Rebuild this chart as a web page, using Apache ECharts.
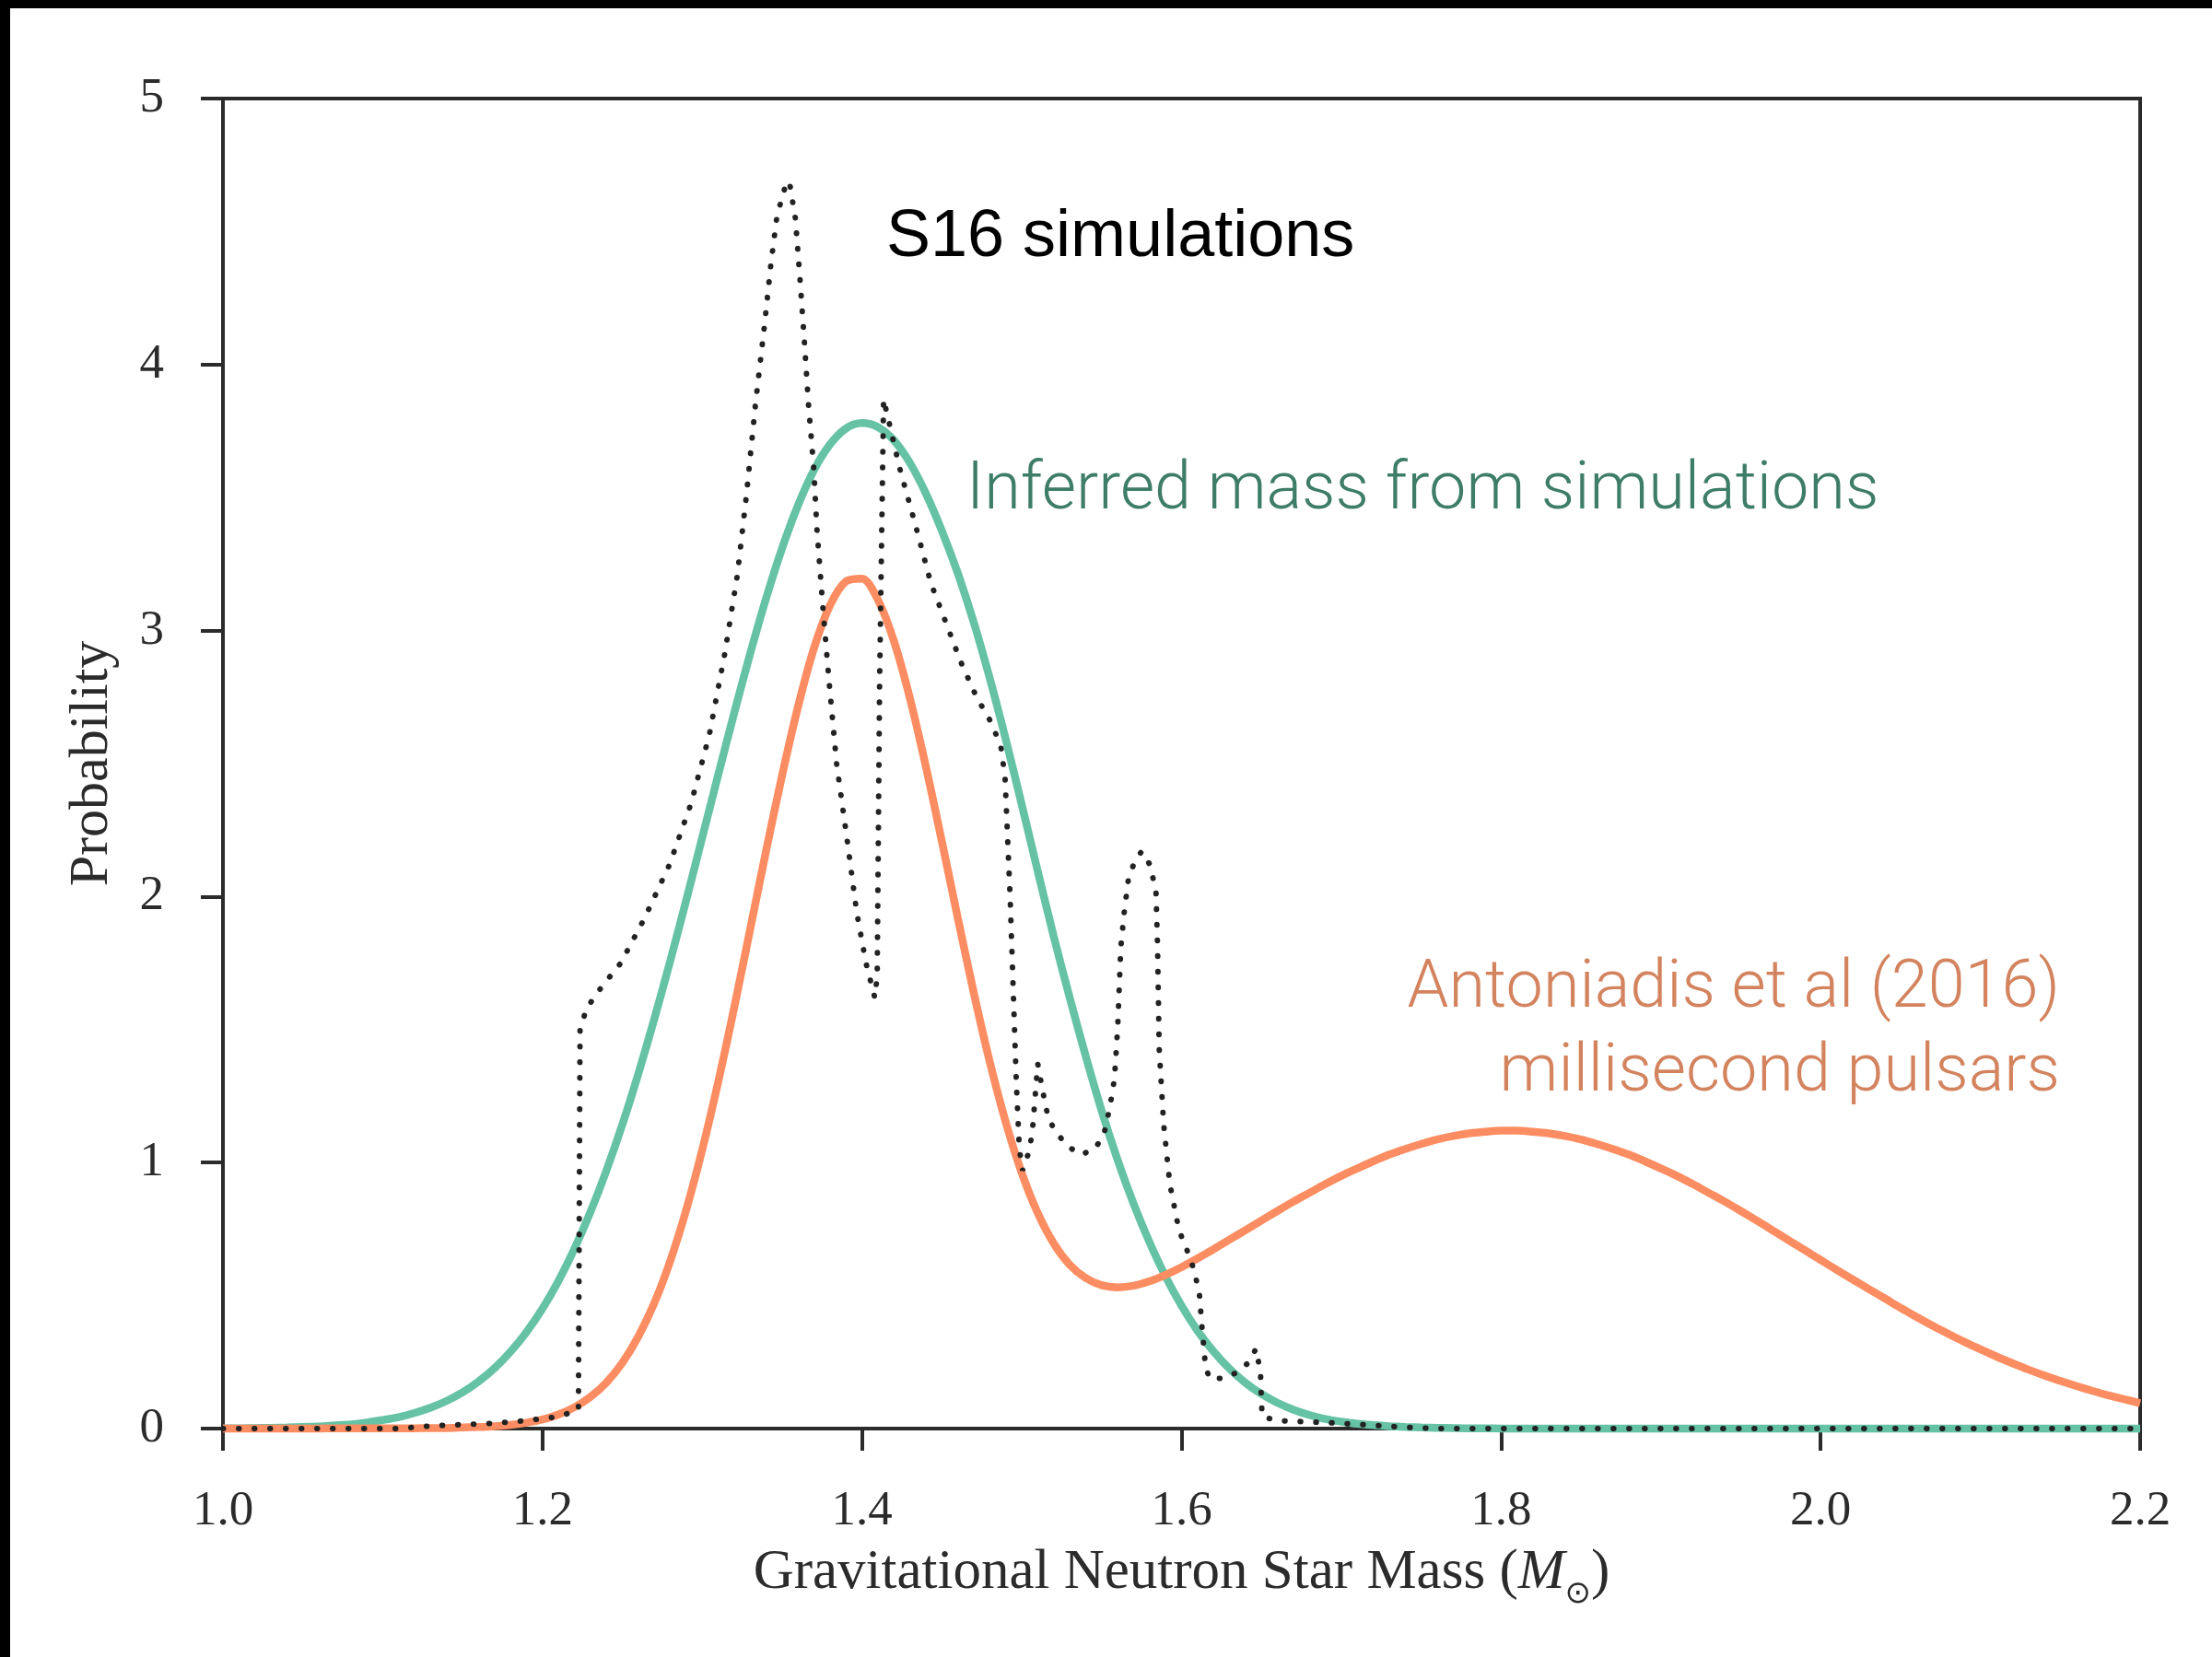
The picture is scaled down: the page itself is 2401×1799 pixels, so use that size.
<!DOCTYPE html>
<html>
<head>
<meta charset="utf-8">
<script src="https://cdn.jsdelivr.net/npm/echarts@6/dist/echarts.min.js"></script>
<style>
html,body{margin:0;padding:0;background:#fff;}
#chart{width:2401px;height:1799px;}
</style>
</head>
<body>
<div id="chart"></div>
<script>
// ---- data ----
const masses = [
1.00,1.01,1.02,1.03,1.04,1.05,1.06,1.07,1.08,1.09,
1.10,1.11,1.12,1.13,1.14,1.15,1.16,1.17,1.18,1.19,
1.20,1.21,1.22,1.23,1.24,1.25,1.26,1.27,1.28,1.29,
1.30,1.31,1.32,1.33,1.34,1.35,1.36,1.37,1.38,1.39,
1.40,1.41,1.42,1.43,1.44,1.45,1.46,1.47,1.48,1.49,
1.50,1.51,1.52,1.53,1.54,1.55,1.56,1.57,1.58,1.59,
1.60,1.61,1.62,1.63,1.64,1.65,1.66,1.67,1.68,1.69,
1.70,1.71,1.72,1.73,1.74,1.75,1.76,1.77,1.78,1.79,
1.80,1.81,1.82,1.83,1.84,1.85,1.86,1.87,1.88,1.89,
1.90,1.91,1.92,1.93,1.94,1.95,1.96,1.97,1.98,1.99,
2.00,2.01,2.02,2.03,2.04,2.05,2.06,2.07,2.08,2.09,
2.10,2.11,2.12,2.13,2.14,2.15,2.16,2.17,2.18,2.19,
2.20];

const inferredMass = [
0.001,0.001,0.002,0.003,0.004,0.006,0.008,0.012,0.016,0.023,
0.032,0.043,0.059,0.079,0.104,0.136,0.177,0.227,0.289,0.363,
0.451,0.555,0.676,0.814,0.970,1.143,1.334,1.540,1.759,1.987,
2.222,2.458,2.690,2.913,3.122,3.310,3.472,3.604,3.700,3.760,
3.780,3.765,3.715,3.630,3.515,3.375,3.215,3.030,2.820,2.590,
2.345,2.095,1.850,1.620,1.400,1.195,1.010,0.845,0.700,0.572,
0.462,0.368,0.290,0.225,0.172,0.130,0.097,0.071,0.051,0.036,
0.026,0.018,0.013,0.009,0.006,0.004,0.003,0.002,0.001,0.001,
0,0,0,0,0,0,0,0,0,0,
0,0,0,0,0,0,0,0,0,0,
0,0,0,0,0,0,0,0,0,0,
0,0,0,0,0,0,0,0,0,0,
0];

const antoniadis = [
0,0,0,0,0,0,0,0.001,0.001,0.001,
0.001,0.001,0.001,0.002,0.002,0.004,0.006,0.009,0.014,0.022,
0.034,0.053,0.080,0.119,0.173,0.247,0.346,0.472,0.631,0.823,
1.048,1.303,1.583,1.877,2.173,2.456,2.715,2.935,3.095,3.185,
3.195,3.115,2.960,2.745,2.488,2.207,1.918,1.637,1.378,1.151,
0.961,0.810,0.696,0.616,0.566,0.539,0.531,0.537,0.554,0.578,
0.607,0.640,0.674,0.710,0.746,0.782,0.818,0.853,0.886,0.919,
0.950,0.978,1.005,1.030,1.051,1.070,1.087,1.100,1.110,1.116,
1.120,1.120,1.116,1.110,1.100,1.087,1.070,1.051,1.030,1.005,
0.978,0.950,0.919,0.886,0.853,0.818,0.782,0.745,0.708,0.671,
0.634,0.597,0.561,0.525,0.490,0.454,0.420,0.387,0.356,0.326,
0.298,0.271,0.246,0.222,0.200,0.179,0.160,0.142,0.125,0.110,
0.096];

const s16Mass = [
1.000,1.110,1.130,1.150,1.170,1.190,1.210,1.2225,1.2235,1.2276,
1.237,1.249,1.264,1.2795,1.293,1.3045,1.314,1.322,1.3275,1.3333,
1.339,1.343,1.3468,1.3515,1.3545,1.3583,1.3612,1.364,1.3665,1.3698,
1.3718,1.3756,1.3795,1.3841,1.391,1.3967,1.4025,1.408,1.4095,1.411,
1.4135,1.4178,1.4236,1.4333,1.443,1.4525,1.462,1.4717,1.4813,1.487,
1.4895,1.4927,1.4966,1.4985,1.5005,1.505,1.507,1.510,1.5128,1.5167,
1.5225,1.529,1.537,1.5456,1.5514,1.5552,1.558,1.560,1.562,1.5641,
1.5668,1.5706,1.575,1.5802,1.584,1.585,1.586,1.5888,1.5927,1.5984,
1.606,1.611,1.613,1.615,1.6176,1.627,1.636,1.6427,1.6465,1.6494,
1.650,1.6505,1.660,1.680,1.700,1.720,1.740,1.760,2.200];

const s16Prob = [
0,0,0.01,0.015,0.02,0.03,0.045,0.07,1.50,1.58,
1.66,1.75,1.92,2.12,2.35,2.61,2.91,3.21,3.50,3.85,
4.15,4.38,4.56,4.66,4.69,4.55,4.32,4.08,3.85,3.61,
3.38,3.08,2.80,2.50,2.20,1.94,1.75,1.62,1.70,2.80,
3.87,3.76,3.61,3.40,3.18,3.03,2.88,2.75,2.65,2.56,
2.45,2.00,1.30,1.05,0.97,1.05,1.144,1.372,1.278,1.163,
1.106,1.06,1.03,1.05,1.106,1.21,1.315,1.505,1.81,1.94,
2.07,2.13,2.17,2.12,2.02,1.81,1.43,1.144,0.918,0.746,
0.632,0.518,0.367,0.233,0.187,0.19,0.215,0.253,0.30,0.215,
0.10,0.045,0.03,0.025,0.02,0.012,0.005,0,0];

const xTickLabels = ['1.0','1.2','1.4','1.6','1.8','2.0','2.2'];
const yTickLabels = ['0','1','2','3','4','5'];

// ---- build series data ----
const zip = (xs, ys) => xs.map((x, i) => [x, ys[i]]);

const chart = echarts.init(document.getElementById('chart'), null, {renderer: 'canvas'});
const axisColor = '#2b2b2b';
const serif = "'Liberation Serif', 'DejaVu Serif', serif";
const sans = "Roboto, 'Liberation Sans', sans-serif";
const helv = "'Liberation Sans', Arial, sans-serif";

const option = {
  animation: false,
  backgroundColor: '#ffffff',
  grid: {
    left: 242, right: 78, top: 107, bottom: 248,
    show: true, borderColor: axisColor, borderWidth: 4, backgroundColor: 'transparent'
  },
  xAxis: {
    type: 'value', min: 1.0, max: 2.2, interval: 0.2,
    axisLine: {show: true, onZero: false, lineStyle: {color: axisColor, width: 4}},
    axisTick: {show: true, length: 24, lineStyle: {color: axisColor, width: 4}},
    axisLabel: {
      margin: 64, fontFamily: serif, fontSize: 53, color: axisColor,
      formatter: function (v) { return xTickLabels[Math.round((v - 1.0) / 0.2)]; }
    },
    splitLine: {show: false},
    name: '{t|Gravitational Neutron Star Mass (}{it|M}{sub|⊙}{t|)}',
    nameLocation: 'middle', nameGap: 117,
    nameTextStyle: {
      rich: {
        t: {fontFamily: serif, fontSize: 61, color: axisColor, lineHeight: 80},
        it: {fontFamily: serif, fontStyle: 'italic', fontSize: 61, color: axisColor, lineHeight: 80},
        sub: {fontFamily: "'DejaVu Sans', sans-serif", fontSize: 34, color: axisColor, verticalAlign: 'bottom'}
      }
    }
  },
  yAxis: {
    type: 'value', min: 0, max: 5, interval: 1,
    axisLine: {show: true, onZero: false, lineStyle: {color: axisColor, width: 4}},
    axisTick: {show: true, length: 24, lineStyle: {color: axisColor, width: 4}},
    axisLabel: {
      margin: 64, fontFamily: serif, fontSize: 53, color: axisColor,
      formatter: function (v) { return yTickLabels[Math.round(v)]; }
    },
    splitLine: {show: false},
    name: 'Probability', nameLocation: 'middle', nameGap: 112,
    nameTextStyle: {fontFamily: serif, fontSize: 60, color: axisColor}
  },
  series: [
    {
      name: 'Inferred mass from simulations', type: 'line',
      data: zip(masses, inferredMass), showSymbol: false, smooth: 0.3, clip: false,
      lineStyle: {color: '#66c2a5', width: 8.5}, z: 3
    },
    {
      name: 'Antoniadis et al (2016)', type: 'line',
      data: zip(masses, antoniadis), showSymbol: false, smooth: 0.3, clip: false,
      lineStyle: {color: '#fc8d62', width: 8.5}, z: 4
    },
    {
      name: 'S16 simulations', type: 'line',
      data: zip(s16Mass, s16Prob), showSymbol: false, smooth: false, clip: false,
      lineStyle: {color: '#222222', width: 6, type: [0.5, 16.5], cap: 'round'}, z: 5
    }
  ],
  graphic: [
    {type: 'rect', shape: {x: 0, y: 0, width: 2401, height: 9}, style: {fill: '#000'}, z: 100},
    {type: 'rect', shape: {x: 0, y: 0, width: 11, height: 1799}, style: {fill: '#000'}, z: 100},
    {type: 'text', x: 962, y: 258, z: 50,
      style: {text: 'S16 simulations', fill: '#000', fontFamily: helv, fontSize: 72, fontWeight: 400,
        textAlign: 'left', align: 'left', textVerticalAlign: 'middle', verticalAlign: 'middle'}},
    {type: 'text', x: 1049, y: 534, z: 50,
      style: {text: 'Inferred mass from simulations', fill: '#3e7d67', fontFamily: sans, fontSize: 72, fontWeight: 300,
        textAlign: 'left', align: 'left', textVerticalAlign: 'middle', verticalAlign: 'middle'}},
    {type: 'text', x: 2236, y: 1075, z: 50,
      style: {text: 'Antoniadis et al (2016)', fill: '#d3845f', fontFamily: sans, fontSize: 72, fontWeight: 300,
        textAlign: 'right', align: 'right', textVerticalAlign: 'middle', verticalAlign: 'middle'}},
    {type: 'text', x: 2236, y: 1166, z: 50,
      style: {text: 'millisecond pulsars', fill: '#d3845f', fontFamily: sans, fontSize: 72, fontWeight: 300,
        textAlign: 'right', align: 'right', textVerticalAlign: 'middle', verticalAlign: 'middle'}}
  ]
};
chart.setOption(option);
</script>
</body>
</html>
